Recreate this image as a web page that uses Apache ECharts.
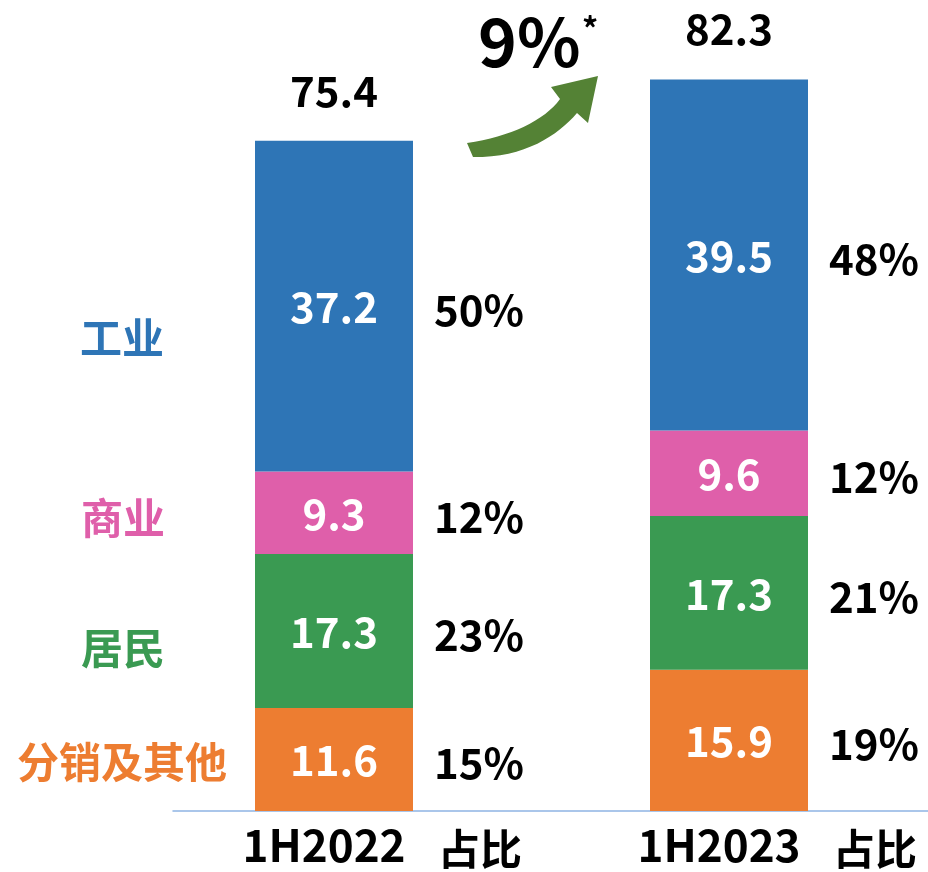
<!DOCTYPE html>
<html>
<head>
<meta charset="utf-8">
<script src="https://cdn.jsdelivr.net/npm/echarts@6/dist/echarts.min.js"></script>
<style>
  html, body { margin: 0; padding: 0; background: #fff; }
  #main { width: 928px; height: 872px; }
</style>
</head>
<body>
<div id="main"></div>
<script>
// 数据
const periods = ['1H2022', '1H2023'];
const segments = ['分销及其他', '居民', '商业', '工业'];
const others = [11.6, 15.9];
const residential = [17.3, 17.3];
const commercial = [9.3, 9.6];
const industrial = [37.2, 39.5];
const shareOthers = [15, 19];
const shareResidential = [23, 21];
const shareCommercial = [12, 12];
const shareIndustrial = [50, 48];
const totals = [75.4, 82.3];
const growthLabel = '9%';

const colors = ['#ED7D31', '#3A9A52', '#DF5FAA', '#2E75B6'];
const FONT = '"Noto Sans CJK SC", "Noto Sans", sans-serif';

const stackValues = [others, residential, commercial, industrial];
const shares = [shareOthers, shareResidential, shareCommercial, shareIndustrial];

// 每段的上下边界 + 占比
const shareRows = [];
periods.forEach((p, i) => {
  let base = 0;
  stackValues.forEach((vals, k) => {
    shareRows.push([i, base, base + vals[i], shares[k][i]]);
    base += vals[i];
  });
});

const BAR_RATIO = 0.4;

// 箭头轮廓 (三次贝塞尔取点)
function bezier(p0, p1, p2, p3, n) {
  const pts = [];
  for (let s = 0; s <= n; s++) {
    const t = s / n, u = 1 - t;
    pts.push([
      u * u * u * p0[0] + 3 * u * u * t * p1[0] + 3 * u * t * t * p2[0] + t * t * t * p3[0],
      u * u * u * p0[1] + 3 * u * u * t * p1[1] + 3 * u * t * t * p2[1] + t * t * t * p3[1]
    ]);
  }
  return pts;
}
const arrowPoints = []
  .concat(bezier([467, 143], [510, 137], [545, 120], [560, 99], 16))
  .concat([[551, 87], [598, 76], [588, 123]])
  .concat(bezier([577, 113], [558, 135], [525, 158], [473, 157], 16));

const myChart = echarts.init(document.getElementById('main'));

const barSeries = segments.map((name, k) => ({
  name: name,
  type: 'bar',
  stack: 'total',
  barWidth: BAR_RATIO * 100 + '%',
  data: stackValues[k],
  itemStyle: { color: colors[k] },
  label: {
    show: true,
    position: 'inside',
    color: '#fff',
    fontSize: 42,
    fontWeight: 'bold',
    fontFamily: FONT,
    offset: [0, 1]
  }
}));

const option = {
  animation: false,
  backgroundColor: '#fff',
  grid: [
    { left: 136.5, right: 1.5, top: 11, bottom: 61 },
    { left: 173, right: 0, top: 11, bottom: 61 }
  ],
  xAxis: [
    {
      type: 'category',
      gridIndex: 0,
      data: periods,
      axisLine: { show: false },
      axisTick: { show: false },
      axisLabel: {
        margin: 12,
        color: '#000',
        fontSize: 44,
        fontWeight: 'bold',
        fontFamily: FONT,
        padding: [0, 20, 0, 0]
      }
    },
    {
      type: 'category',
      gridIndex: 1,
      data: periods,
      axisLine: { show: true, lineStyle: { color: '#8EB4E3', width: 1.5 } },
      axisTick: { show: false },
      axisLabel: { show: false }
    }
  ],
  yAxis: [
    { type: 'value', gridIndex: 0, min: 0, max: 90, show: false },
    { type: 'value', gridIndex: 1, min: 0, max: 90, show: false }
  ],
  series: barSeries.concat([
    {
      // 占比
      type: 'custom',
      data: shareRows,
      z: 5,
      renderItem: (params, api) => {
        const i = api.value(0);
        const lo = api.coord([i, api.value(1)]);
        const hi = api.coord([i, api.value(2)]);
        const half = api.size([1, 0])[0] * BAR_RATIO / 2;
        return {
          type: 'text',
          style: {
            x: lo[0] + half + 21,
            y: (lo[1] + hi[1]) / 2 + 4,
            text: api.value(3) + '%',
            fill: '#000',
            font: 'bold 42px ' + FONT,
            align: 'left',
            verticalAlign: 'middle'
          }
        };
      }
    },
    {
      // 总量
      type: 'custom',
      data: totals.map((t, i) => [i, t]),
      z: 5,
      renderItem: (params, api) => {
        const pt = api.coord([api.value(0), api.value(1)]);
        return {
          type: 'text',
          style: {
            x: pt[0],
            y: pt[1] - 50,
            text: api.value(1).toFixed(1),
            fill: '#000',
            font: 'bold 42px ' + FONT,
            align: 'center',
            verticalAlign: 'middle'
          }
        };
      }
    },
    {
      // “占比”表头
      type: 'custom',
      data: periods.map((p, i) => [i, 0]),
      z: 5,
      renderItem: (params, api) => {
        const pt = api.coord([api.value(0), 0]);
        const half = api.size([1, 0])[0] * BAR_RATIO / 2;
        return {
          type: 'text',
          style: {
            x: pt[0] + half + 25,
            y: pt[1] + 38,
            text: '占比',
            fill: '#000',
            font: 'bold 42px ' + FONT,
            align: 'left',
            verticalAlign: 'middle'
          }
        };
      }
    }
  ]),
  graphic: [
    { type: 'text', style: { text: segments[3], x: 122, y: 338, align: 'center', verticalAlign: 'middle', fill: colors[3], font: 'bold 42px ' + FONT } },
    { type: 'text', style: { text: segments[2], x: 123, y: 518, align: 'center', verticalAlign: 'middle', fill: colors[2], font: 'bold 42px ' + FONT } },
    { type: 'text', style: { text: segments[1], x: 123, y: 648, align: 'center', verticalAlign: 'middle', fill: colors[1], font: 'bold 42px ' + FONT } },
    { type: 'text', style: { text: segments[0], x: 122, y: 762, align: 'center', verticalAlign: 'middle', fill: colors[0], font: 'bold 42px ' + FONT } },
    {
      type: 'polygon',
      shape: { points: arrowPoints },
      style: { fill: '#548235' }
    },
    { type: 'text', style: { text: growthLabel, x: 478, y: 42, align: 'left', verticalAlign: 'middle', fill: '#000', font: 'bold 66px ' + FONT } },
    { type: 'text', style: { text: '*', x: 582, y: 29, align: 'left', verticalAlign: 'middle', fill: '#000', font: 'bold 32px ' + FONT } }
  ]
};

myChart.setOption(option);
</script>
</body>
</html>
